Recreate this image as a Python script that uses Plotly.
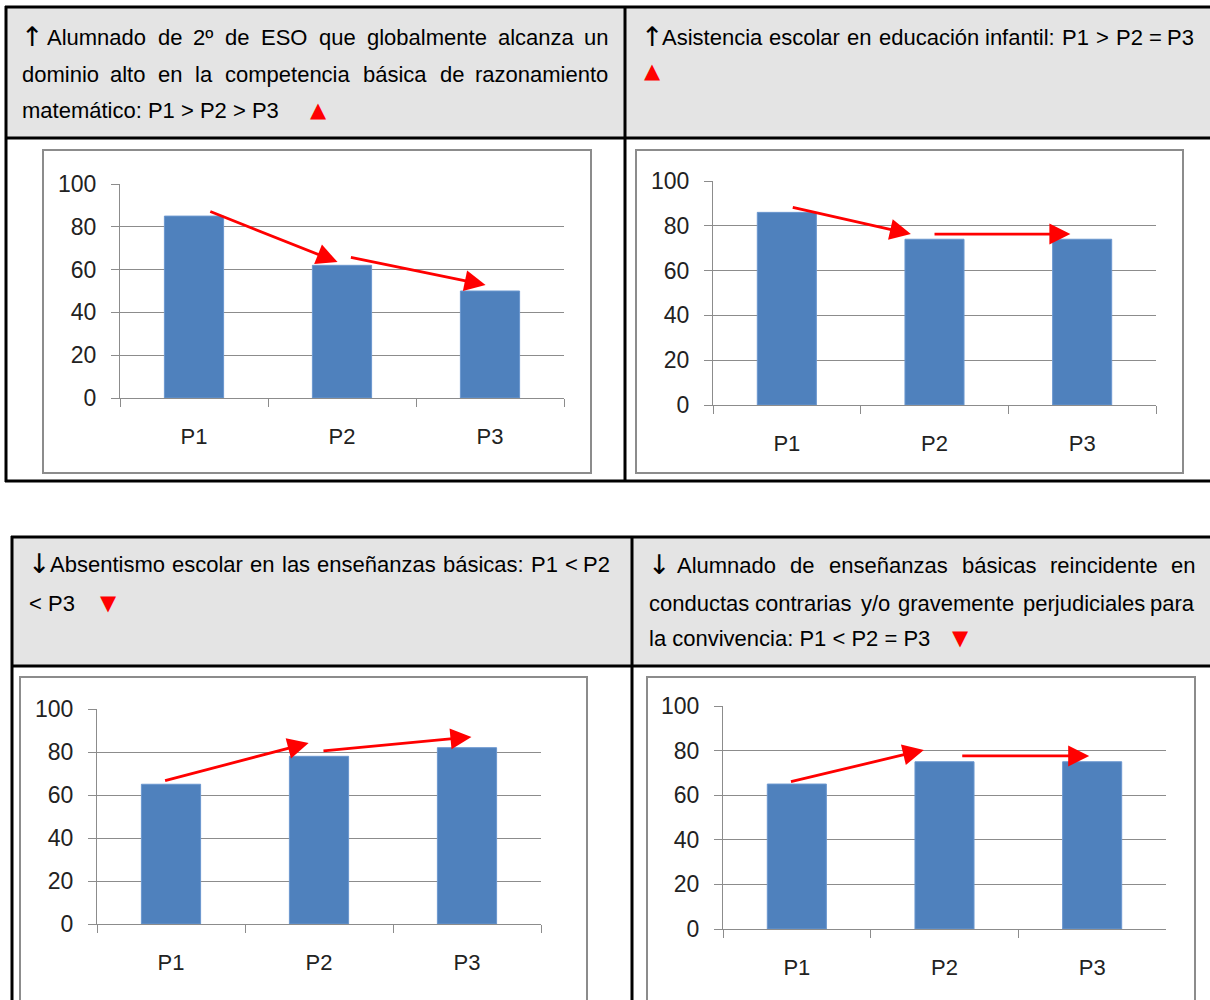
import plotly.graph_objects as go

# ---------------- data ----------------
categories = ["P1", "P2", "P3"]
vals_matematico = [85, 62, 50]
vals_asistencia = [86, 74, 74]
vals_absentismo = [65, 78, 82]
vals_conductas = [65, 75, 75]
y_ticks = [0, 20, 40, 60, 80, 100]

title_matematico = [
    "↑ Alumnado de 2º de ESO que globalmente alcanza un",
    "dominio alto en la competencia básica de razonamiento",
    "matemático: P1 > P2 > P3",
]
title_asistencia = ["↑ Asistencia escolar en educación infantil: P1 > P2 = P3"]
title_absentismo = ["↓ Absentismo escolar en las enseñanzas básicas: P1 < P2", "< P3"]
title_conductas = [
    "↓ Alumnado de enseñanzas básicas reincidente en",
    "conductas contrarias y/o gravemente perjudiciales para",
    "la convivencia: P1 < P2 = P3",
]

# ---------------- style ----------------
W_PX, H_PX = 1210, 1000
BAR = "#4f81bd"
GRID = "#8c8c8c"
HEAD_BG = "#e4e4e4"
RED = "#ff0000"
TXT_FONT = "Liberation Sans, Arial, sans-serif"
SYM_FONT = "DejaVu Sans, sans-serif"
TICK_FONT = "Liberation Sans, Arial, sans-serif"
HSIZE = 22
ARROWS = ("↑", "↓")


def px(x):
    return x / W_PX


def py(y):
    return 1 - y / H_PX


# Arial / Liberation Sans advance widths (1/1000 em)
AW = {" ": 278, "a": 556, "b": 556, "c": 500, "d": 556, "e": 556, "f": 278, "g": 556, "h": 556,
      "i": 222, "j": 222, "k": 500, "l": 222, "m": 833, "n": 556, "o": 556, "p": 556, "q": 556,
      "r": 333, "s": 500, "t": 278, "u": 556, "v": 500, "w": 722, "x": 500, "y": 500, "z": 500,
      "A": 667, "E": 667, "O": 778, "S": 667, "P": 667, "á": 556, "é": 556, "ó": 556, "ñ": 556,
      "º": 365, ":": 278, "/": 278, ">": 584, "<": 584, "=": 584, "↑": 700, "↓": 700}


def text_w(s, size):
    return sum(AW.get(c, 556) for c in s) * size / 1000


annotations = []


def txt(s, x, y, anchor="left", color="black", size=HSIZE, family=TXT_FONT):
    annotations.append(dict(text=s, x=px(x), y=py(y), xref="paper", yref="paper",
                            xanchor=anchor, yanchor="middle", showarrow=False,
                            font=dict(family=family, size=size, color=color)))


def justified(line, x0, x1, y):
    words = line.split(" ")
    widths = [text_w(w, HSIZE) for w in words]
    gap = (x1 - x0 - sum(widths)) / (len(words) - 1)
    x = x0
    for i, (w, wd) in enumerate(zip(words, widths)):
        if w in ARROWS:
            txt(w, x0 - 1, y - 1, "left", "black", 27, SYM_FONT)
        elif i == 0:
            txt(w, x0, y, "left")
        elif i == len(words) - 1:
            txt(w, x1, y, "right")
        else:
            txt(w, x + wd / 2, y, "center")
        x += wd + gap


def mark(sym, x, y):
    txt(sym, x, y, "center", RED, 21, SYM_FONT)


# headers
justified(title_matematico[0], 20, 610, 37)
justified(title_matematico[1], 20, 610, 75)
txt(title_matematico[2], 20, 111)
mark("▲", 318, 110)

justified(title_asistencia[0], 640, 1196, 37)
mark("▲", 652, 71)

justified(title_absentismo[0], 27, 612, 564)
txt(title_absentismo[1], 27, 603)
mark("▼", 108, 603)

justified(title_conductas[0], 647, 1197, 565)
justified(title_conductas[1], 647, 1197, 603)
txt(title_conductas[2], 647, 638)
mark("▼", 960, 638)

# ---------------- shapes (table + chart frames) ----------------
shapes = []


def rect(x0, y0, x1, y1, fill=None, line=None, lw=0):
    shapes.append(dict(type="rect", xref="paper", yref="paper", x0=px(x0), x1=px(x1),
                       y0=py(y1), y1=py(y0), fillcolor=fill or "rgba(0,0,0,0)",
                       line=dict(color=line or "rgba(0,0,0,0)", width=lw), layer="below"))


def seg(x0, y0, x1, y1, color="black", lw=3):
    shapes.append(dict(type="line", xref="paper", yref="paper", x0=px(x0), x1=px(x1),
                       y0=py(y0), y1=py(y1), line=dict(color=color, width=lw), layer="above"))


# header backgrounds
rect(6, 7, 1210, 138, HEAD_BG)
rect(12, 537, 1210, 666, HEAD_BG)
# top table borders
seg(5, 7, 1210, 7)
seg(5, 138, 1210, 138)
seg(5, 481, 1210, 481)
seg(6, 6, 6, 482)
seg(625, 6, 625, 482)
# bottom table borders
seg(11, 537, 1210, 537)
seg(11, 666, 1210, 666)
seg(12, 536, 12, 1000)
seg(632, 536, 632, 1000)
# chart frames
rect(43, 150, 591, 473, None, GRID, 2)
rect(636, 150, 1183, 473, None, GRID, 2)
for fx0, fx1 in [(20, 587), (647, 1195)]:
    seg(fx0 - 1, 677, fx1 + 1, 677, GRID, 2)
    seg(fx0, 677, fx0, 1000, GRID, 2)
    seg(fx1, 677, fx1, 1000, GRID, 2)

# ---------------- charts ----------------
panels = [
    (vals_matematico, (120, 564), (398, 184),
     [((0, 0.10, 2.4), (1, -0.03, 1.5)), ((1, 0.05, 3.9), (2, -0.03, 2.8))]),
    (vals_asistencia, (713, 1156), (405, 181),
     [((0, 0.03, 2.4), (1, -0.16, 2.3)), ((1, -0.01, 2.3), (2, -0.08, 2.3))]),
    (vals_absentismo, (97, 541), (924, 709),
     [((0, -0.05, 1.5), (1, -0.07, 6.2)), ((1, 0.02, 2.5), (2, 0.03, 5.0))]),
    (vals_conductas, (723, 1166), (929, 706),
     [((0, -0.05, 0.9), (1, -0.14, 5.3)), ((1, 0.11, 2.6), (2, -0.02, 2.6))]),
]

fig = go.Figure()
layout_axes = {}
for k, (vals, (xl, xr), (y0, y100), arrows) in enumerate(panels):
    n = "" if k == 0 else str(k + 1)
    fig.add_trace(go.Bar(x=categories, y=vals, width=0.4,
                         marker=dict(color=BAR, line=dict(width=1, color="#6b97cf")),
                         xaxis="x" + n, yaxis="y" + n, hoverinfo="skip"))
    layout_axes["xaxis" + n] = dict(
        domain=[px(xl), px(xr)], anchor="y" + n, type="category", range=[-0.5, 2.5],
        showline=True, linecolor=GRID, linewidth=1, ticks="outside", tickson="boundaries",
        ticklen=8, tickcolor=GRID, tickwidth=1, showgrid=False, zeroline=False,
        tickfont=dict(family=TICK_FONT, size=22, color="#222222"), ticklabelstandoff=19,
        fixedrange=True, automargin=False)
    layout_axes["yaxis" + n] = dict(
        domain=[py(y0), py(y100)], anchor="x" + n, range=[0, 100], tickvals=y_ticks,
        showline=True, linecolor=GRID, linewidth=1, ticks="outside", ticklen=8,
        tickcolor=GRID, tickwidth=1, showgrid=True, gridcolor=GRID, gridwidth=1,
        zeroline=False, tickfont=dict(family=TICK_FONT, size=23, color="#222222"),
        ticklabelstandoff=10, fixedrange=True, automargin=False)
    for (ti, tdx, tdy), (hi, hdx, hdy) in arrows:
        annotations.append(dict(
            x=hi + hdx, y=vals[hi] + hdy, ax=ti + tdx, ay=vals[ti] + tdy,
            xref="x" + n, yref="y" + n, axref="x" + n, ayref="y" + n,
            text="", showarrow=True, arrowhead=2, arrowsize=1.5, arrowwidth=2.8,
            arrowcolor=RED, standoff=0))

fig.update_layout(
    width=W_PX, height=H_PX, margin=dict(l=0, r=0, t=0, b=0, pad=0, autoexpand=False),
    paper_bgcolor="white", plot_bgcolor="white", showlegend=False,
    bargap=0.6, annotations=annotations, shapes=shapes, **layout_axes)

fig.write_html("out.html")
